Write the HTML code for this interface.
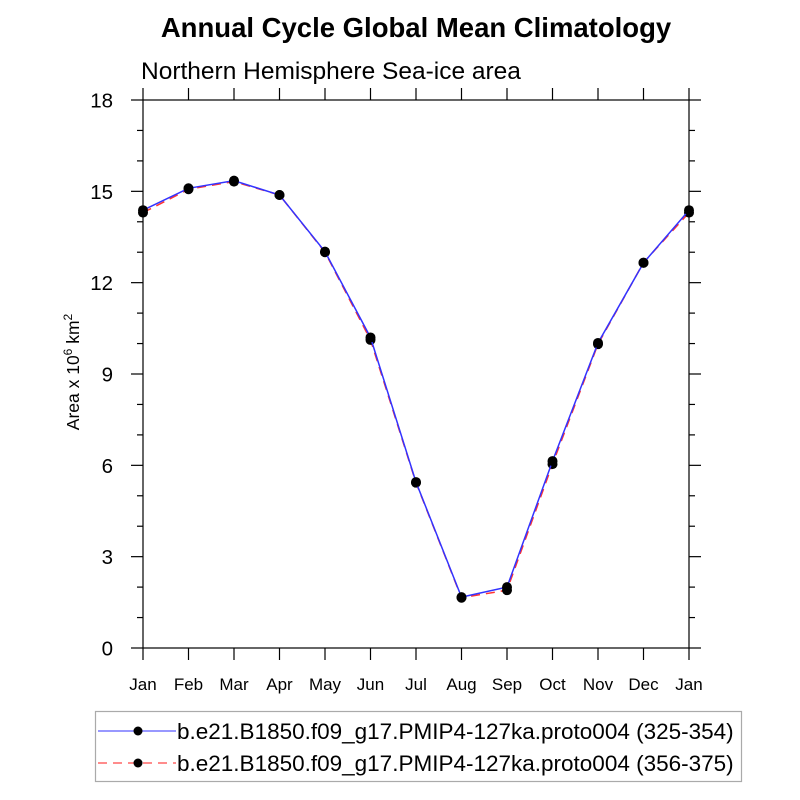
<!DOCTYPE html>
<html><head><meta charset="utf-8"><style>
body{margin:0;background:#fff;}
svg{display:block;font-family:"Liberation Sans",Arial,sans-serif;}
</style></head><body>
<svg id="chart" width="800" height="800" viewBox="0 0 800 800">
<text x="416" y="37" text-anchor="middle" font-size="27.5" font-weight="bold">Annual Cycle Global Mean Climatology</text>
<text x="141" y="79" font-size="24.5">Northern Hemisphere Sea-ice area</text>
<rect x="143" y="100" width="546" height="548" fill="none" stroke="#000" stroke-width="1.2"/>
<g id="ticks"></g>
<g id="series"></g>
<text transform="translate(79,372) rotate(-90)" text-anchor="middle" font-size="17.5">Area x 10<tspan dy="-7" font-size="12">6</tspan><tspan dy="7"> km</tspan><tspan dy="-7" font-size="12">2</tspan></text>
<g>
<rect x="95.5" y="711.5" width="646" height="70" fill="#fff" stroke="#aaa" stroke-width="1.2"/>
<g>
<line x1="98" y1="731" x2="176" y2="731" stroke="#7777ff" stroke-width="1.5"/>
<circle cx="138" cy="731" r="4.5" fill="#000"/>
<text x="177" y="739" font-size="22.5">b.e21.B1850.f09_g17.PMIP4-127ka.proto004 (325-354)</text></g>
<g>
<line x1="98" y1="763" x2="176" y2="763" stroke="#ff6666" stroke-width="1.5" stroke-dasharray="9,6"/>
<circle cx="138" cy="763" r="4.5" fill="#000"/>
<text x="177" y="771" font-size="22.5">b.e21.B1850.f09_g17.PMIP4-127ka.proto004 (356-375)</text></g>
</g>
</svg>
<script>
const months = ["Jan","Feb","Mar","Apr","May","Jun","Jul","Aug","Sep","Oct","Nov","Dec","Jan"];
const series1 = [14.38,15.1,15.35,14.88,13.02,10.2,5.45,1.67,2.0,6.14,10.02,12.65,14.38];
const series2 = [14.3,15.07,15.32,14.88,13.0,10.12,5.43,1.65,1.9,6.04,9.98,12.66,14.3];
const yTicks = [0,3,6,9,12,15,18];
const NS="http://www.w3.org/2000/svg";
const X0=143,X1=689,Y0=648,Y1=100,YMAX=18;
const xs=i=>X0+(X1-X0)*i/(months.length-1);
const ys=v=>Y0-(Y0-Y1)*v/YMAX;
function mk(t,a,p){const e=document.createElementNS(NS,t);for(const k in a)e.setAttribute(k,a[k]);p.appendChild(e);return e;}
const tg=document.getElementById('ticks');
for(let v=0;v<=YMAX;v++){
  const y=ys(v),maj=v%3===0,L=maj?12:6;
  mk('line',{x1:X0,y1:y,x2:X0-L,y2:y,stroke:'#000','stroke-width':1.2},tg);
  mk('line',{x1:X1,y1:y,x2:X1+L,y2:y,stroke:'#000','stroke-width':1.2},tg);
}
yTicks.forEach(v=>{
  const t=mk('text',{x:113,y:ys(v)+7.5,'text-anchor':'end','font-size':20.5},tg);
  t.textContent=v;
  
  
});
months.forEach((m,i)=>{
  const x=xs(i);
  mk('line',{x1:x,y1:Y0,x2:x,y2:Y0+12,stroke:'#000','stroke-width':1.2},tg);
  mk('line',{x1:x,y1:Y1,x2:x,y2:Y1-12,stroke:'#000','stroke-width':1.2},tg);
  const t=mk('text',{x:x,y:690,'text-anchor':'middle','font-size':17},tg);
  t.textContent=m;
  
  
});
const sg=document.getElementById('series');
function draw(data,color,dash,name){
  const pts=data.map((v,i)=>xs(i)+','+ys(v)).join(' ');
  const a={points:pts,fill:'none',stroke:color,'stroke-width':1.5};
  if(dash)a['stroke-dasharray']=dash;
  const pl=mk('polyline',a,sg);
  
  
  data.forEach((v,i)=>{
    const c=mk('circle',{cx:xs(i),cy:ys(v),r:5,fill:'#000'},sg);
    
    
  });
}
draw(series2,'#ff3333','9,6','series-356-375');
draw(series1,'#3333ff',null,'series-325-354');
</script>
</body></html>
